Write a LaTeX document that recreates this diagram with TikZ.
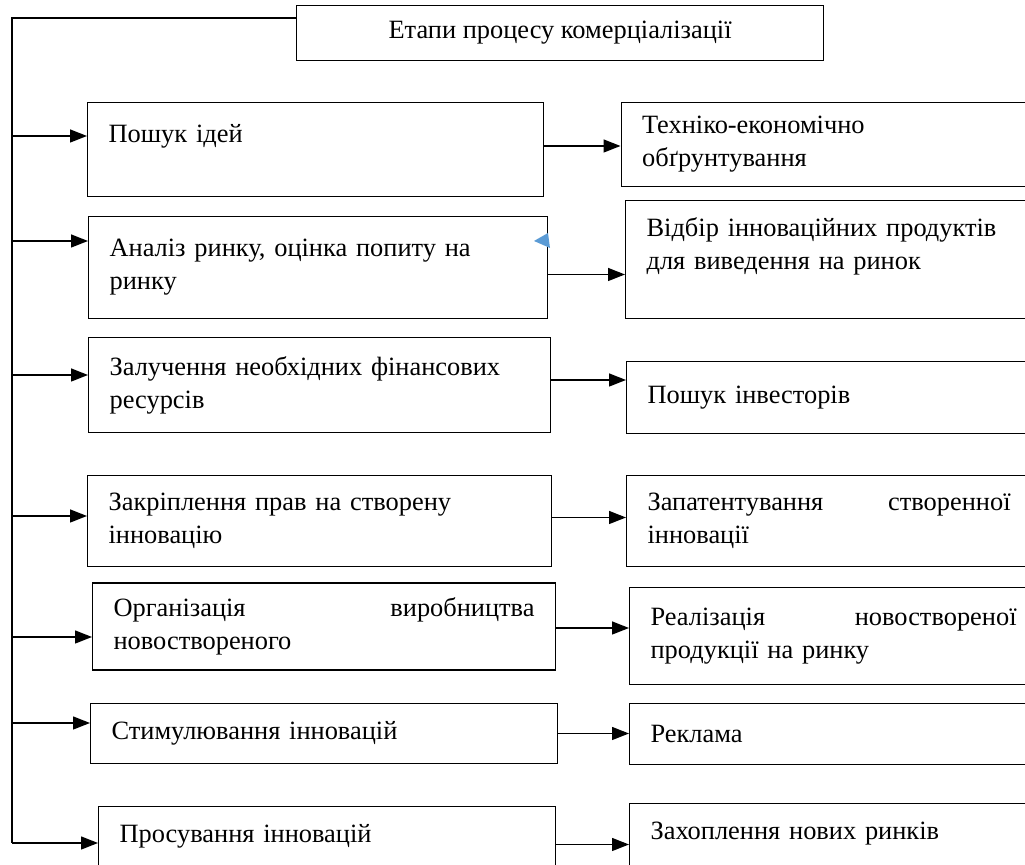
\documentclass[tikz,border=0pt]{standalone}
\usepackage{fontspec}
\setmainfont{Liberation Serif}
\usepackage{tikz}
\usetikzlibrary{arrows.meta}
\definecolor{anchorBlue}{HTML}{5B9BD5}

\tikzset{
  stagebox/.style={draw, line width=0.6pt, anchor=north west, inner xsep=10.5pt, inner ysep=0pt, align=left},
  link/.style={-{Triangle[length=8.5pt,width=6.5pt]}, line width=0.7pt},
}

\begin{document}
\begin{tikzpicture}[x=0.5pt, y=-0.5pt, font=\fontsize{13.2pt}{16.5pt}\selectfont]
\useasboundingbox (0,0) rectangle (1025,865);

\node[stagebox, align=center, minimum width=263.5pt, minimum height=27.5pt] (stages) at (296,5) {Етапи процесу комерціалізації};

% left column
\node[stagebox, text width=207pt, minimum height=47pt] (ideas) at (87,102) {Пошук ідей\\\mbox{}};
\node[stagebox, text width=208.5pt, minimum height=51pt] (market) at (88,216) {Аналіз ринку, оцінка попиту на\\ринку};
\node[stagebox, text width=210pt, minimum height=47.5pt] (finance) at (88,337) {Залучення необхідних фінансових\\ресурсів};
\node[stagebox, text width=211pt, minimum height=45.5pt] (rights) at (87,475) {Закріплення прав на створену\\інновацію};
\node[stagebox, text width=210.5pt, minimum height=43.5pt] (production) at (92,582.5) {Організація\hfill виробництва\\новоствореного};
\node[stagebox, text width=212.5pt, minimum height=30pt] (stimulus) at (90,703) {Стимулювання інновацій};
\node[stagebox, text width=207.5pt, minimum height=43pt] (promotion) at (98,806) {Просування інновацій\\\mbox{}};

% right column
\node[stagebox, text width=186.25pt, minimum height=42pt] (feasibility) at (620.5,102) {Техніко-економічно\\обґрунтування};
\node[stagebox, text width=184pt, minimum height=59pt] (selection) at (625,200) {Відбір інноваційних продуктів\\для виведення на ринок\\\mbox{}};
\node[stagebox, text width=183.5pt, minimum height=36pt] (investors) at (626,361) {Пошук інвесторів};
\node[stagebox, text width=181.5pt, minimum height=45.5pt] (patent) at (626,475) {Запатентування\hfill створенної\\інновації};
\node[stagebox, text width=183pt, minimum height=48.5pt] (sales) at (629,587) {Реалізація\hfill новоствореної\\продукції на ринку};
\node[stagebox, text width=182pt, minimum height=30.5pt] (advert) at (629,703) {Реклама};
\node[stagebox, text width=182pt, minimum height=44pt] (newmarkets) at (629,803) {Захоплення нових ринків\\\mbox{}};

% trunk
\coordinate (top) at (12,18);
\coordinate (t1) at (12,136);
\coordinate (t2) at (12,241);
\coordinate (t3) at (12,375);
\coordinate (t4) at (12,516);
\coordinate (t5) at (12,637);
\coordinate (t6) at (12,723);
\coordinate (t7) at (12,843);
\draw[line width=0.7pt] (stages.west |- top) -- (top) -- (t7);
\draw[link] (t1) -- (t1 -| ideas.west);
\draw[link] (t2) -- (t2 -| market.west);
\draw[link] (t3) -- (t3 -| finance.west);
\draw[link] (t4) -- (t4 -| rights.west);
\draw[link] (t5) -- (t5 -| production.west);
\draw[link] (t6) -- (t6 -| stimulus.west);
\draw[link] (t7) -- (t7 -| promotion.west);

% stage -> result
\coordinate (y1) at (0,146);
\coordinate (y2) at (0,274.5);
\coordinate (y3) at (0,380);
\coordinate (y4) at (0,517.5);
\coordinate (y5) at (0,628);
\coordinate (y6) at (0,733.5);
\coordinate (y7) at (0,844.5);
\draw[link] (ideas.east |- y1) -- (feasibility.west |- y1);
\draw[link] (market.east |- y2) -- (selection.west |- y2);
\draw[link] (finance.east |- y3) -- (investors.west |- y3);
\draw[link] (rights.east |- y4) -- (patent.west |- y4);
\draw[link] (production.east |- y5) -- (sales.west |- y5);
\draw[link] (stimulus.east |- y6) -- (advert.west |- y6);
\draw[link] (promotion.east |- y7) -- (newmarkets.west |- y7);

% anchor mark
\fill[anchorBlue] (534,241) -- (548,233) -- (550,248) -- cycle;
\end{tikzpicture}
\end{document}
